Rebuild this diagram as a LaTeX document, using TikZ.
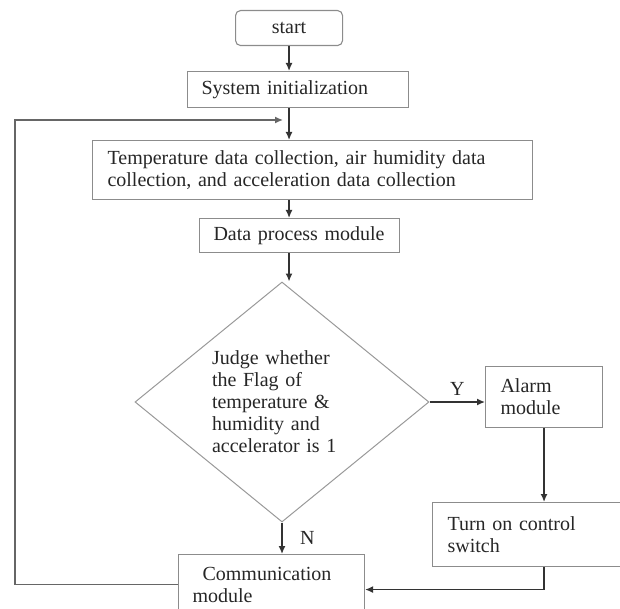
\documentclass[tikz,border=0pt]{standalone}
\usepackage{fontspec}
\setmainfont{Liberation Serif}
\usetikzlibrary{shapes.geometric,arrows.meta}

\begin{document}
\begin{tikzpicture}[x=1pt, y=-1pt, font=\fontsize{20}{22}\selectfont,
    every node/.style={text=black!85},
    block/.style={draw=black!45, line width=1.1pt, anchor=north west, align=left, inner xsep=14pt, inner ysep=0pt},
    decision/.style={draw=black!40, line width=1pt, diamond, aspect=1.225, minimum width=294pt, minimum height=240pt, inner sep=0pt, text width=140pt, align=left},
    flow/.style={draw=black!80, line width=1.4pt, -{Latex[length=8pt,width=7pt]}}]

\useasboundingbox (0,0) rectangle (620,609);

\node[block, rounded corners=5pt, text width=79pt, align=center, minimum height=35pt] (start) at (235,10) {start};
\node[block, text width=193pt, minimum height=36pt] (init) at (187,71) {System initialization};
\node[block, text width=410pt, inner xsep=15pt, minimum height=59pt] (collect) at (92,140) {Temperature data collection, air humidity data\\collection, and acceleration data collection};
\node[block, text width=172pt, minimum height=34pt] (process) at (199,218) {Data process module};
\node[decision] (judge) at (282,402) {Judge whether\\the Flag of\\temperature \&\\humidity and\\accelerator is 1};
\node[block, text width=87pt, inner xsep=15pt, minimum height=61pt] (alarm) at (485,366) {Alarm\\module};
\node[block, text width=175pt, inner xsep=15pt, minimum height=64pt] (switch) at (432,502) {Turn on control\\switch};
\node[block, text width=158pt, minimum height=60pt] (comm) at (178,554) {\hspace*{10pt}Communication\\module};

\coordinate (corner) at (15,120);
\coordinate (merge) at (288,120);

\draw[flow] (start.south) -- (start.south |- init.north);
\draw[flow] (start.south |- init.south) -- (start.south |- collect.north);
\draw[flow, draw=black!60, shorten >=5pt] (comm.west) -| (corner) -- (merge);
\draw[flow] (start.south |- collect.south) -- (start.south |- process.north);
\draw[flow] (start.south |- process.south) -- (start.south |- judge.north);
\draw[flow] (judge.east) -- (judge.east -| alarm.west) node[midway, above=2pt] {Y};
\draw[flow] (judge.south) -- (judge.south |- comm.north) node[midway, right=14pt] {N};
\draw[flow] (alarm.south) -- (alarm.south |- switch.north);
\draw[flow] (alarm.south |- switch.south) |- ([yshift=-5pt]comm.east);
\end{tikzpicture}
\end{document}
